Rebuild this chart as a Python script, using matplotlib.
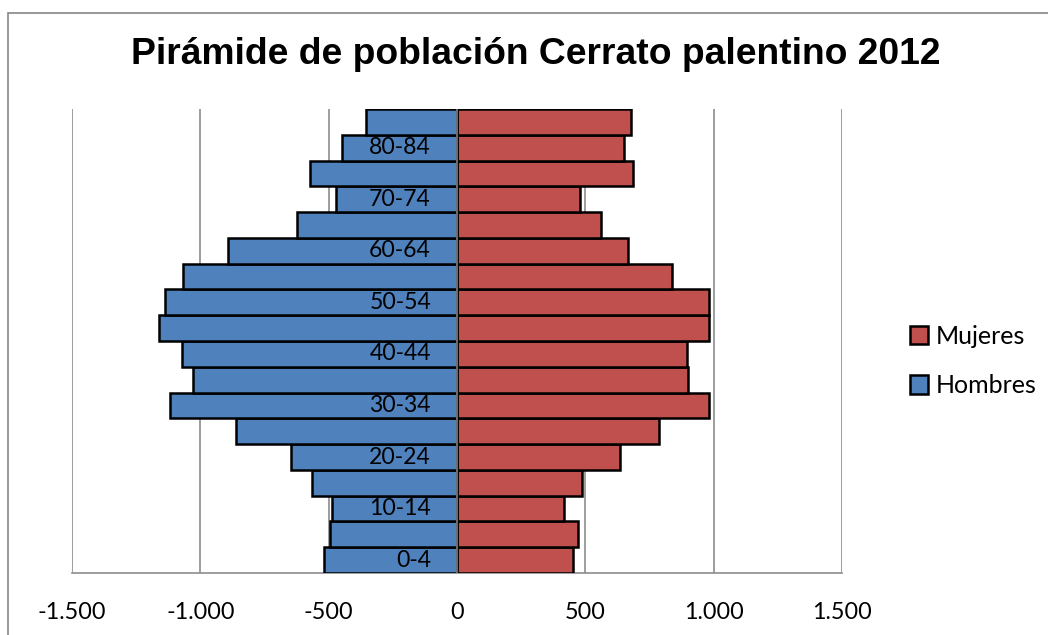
import matplotlib
matplotlib.use("Agg")
import matplotlib.pyplot as plt
from matplotlib.patches import Rectangle
from matplotlib.ticker import FuncFormatter
import matplotlib.transforms as mtrans

age_groups = ["0-4", "5-9", "10-14", "15-19", "20-24", "25-29", "30-34", "35-39",
              "40-44", "45-49", "50-54", "55-59", "60-64", "65-69", "70-74",
              "75-79", "80-84", "85+"]
hombres = [-518, -496, -486, -564, -646, -861, -1117, -1027, -1071, -1160,
           -1136, -1066, -891, -622, -470, -574, -448, -353]
mujeres = [453, 471, 417, 487, 634, 786, 982, 900, 897, 982, 982, 839, 665,
           562, 480, 685, 652, 678]
xticks = [-1500, -1000, -500, 0, 500, 1000, 1500]
title = "Pirámide de población Cerrato palentino 2012"

W, H = 1048, 635
fig = plt.figure(figsize=(W / 100, H / 100), dpi=100)
ax = fig.add_axes([72 / W, 1 - 573 / H, (842 - 72) / W, (573 - 109) / H])

blue = "#4F81BD"
red = "#C0504D"
y = list(range(len(age_groups)))
ax.barh(y, mujeres, height=1.0, color=red, edgecolor="black", linewidth=1.8,
        label="Mujeres", zorder=3)
ax.barh(y, hombres, height=1.0, color=blue, edgecolor="black", linewidth=1.8,
        label="Hombres", zorder=3)

ax.set_xlim(-1500, 1500)
ax.set_ylim(-0.5, len(age_groups) - 0.5)
ax.set_xticks(xticks)
ax.xaxis.set_major_formatter(FuncFormatter(lambda v, p: f"{int(v):,}".replace(",", ".")))
ax.tick_params(axis="x", length=0, pad=21, labelsize=16.8)
for lab in ax.get_xticklabels():
    lab.set_fontfamily("Lato")
ax.set_yticks([])
ax.grid(axis="x", color="#8C8C8C", linewidth=1.2, zorder=0)
for s in ["top", "right", "left"]:
    ax.spines[s].set_visible(False)
ax.spines["bottom"].set_color("#8C8C8C")
ax.spines["bottom"].set_linewidth(1.2)
ax.axvline(0, color="#7F7F7F", linewidth=1.2, zorder=4)

offset = mtrans.offset_copy(ax.transData, fig=fig, x=-26, y=0, units="dots")
for i, lab in enumerate(age_groups):
    if i % 2 == 0:
        ax.text(0, i, lab, transform=offset, ha="right", va="center",
                fontsize=16.6, family="Lato", zorder=5)

fig.text(536 / W, 1 - 54 / H, title, ha="center", va="center",
         fontsize=26.8, fontweight="bold", family="Liberation Sans")

handles, labels = ax.get_legend_handles_labels()
leg = fig.legend(handles, labels, loc="center left",
                 bbox_to_anchor=(887 / W, 1 - 361 / H), frameon=False,
                 prop={"family": "Lato", "size": 18}, handlelength=0.75,
                 handleheight=0.75, handletextpad=0.3, labelspacing=1.05)

fig.patches.append(Rectangle((8 / W, -0.1), 1.2, 1 - 13 / H + 0.1,
                             transform=fig.transFigure, fill=False,
                             edgecolor="#868686", linewidth=1.2))

fig.savefig("out.png", dpi=100)
